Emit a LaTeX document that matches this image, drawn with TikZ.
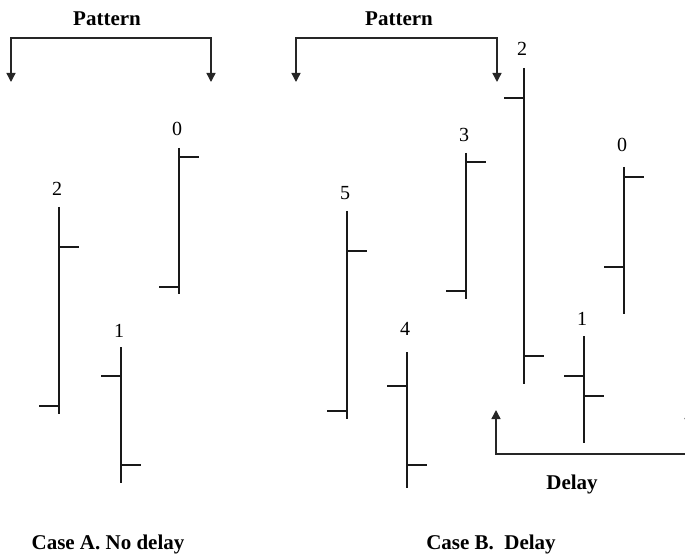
\documentclass[tikz,border=0pt]{standalone}
\usepackage{fontspec}
\setmainfont{Liberation Serif}
\usetikzlibrary{arrows.meta}
\tikzset{>={Triangle[width=9pt,length=9pt]}}
\tikzset{
  bar/.style={line width=1.7pt,black!90},
  brace/.style={line width=1.4pt,black!85},
  num/.style={font=\fontsize{20}{20}\selectfont,anchor=base,inner sep=0pt},
  caption/.style={font=\bfseries\fontsize{21}{21}\selectfont,inner sep=0pt}
}

\begin{document}
\begin{tikzpicture}[x=1pt,y=-1pt]
    \useasboundingbox (0,0) rectangle (685,556);
    % case A
    \node[caption] (patA) at (107,19) {Pattern};
    \coordinate (patAl) at (11,82);
    \coordinate (patAr) at (211,82);
    \draw[brace,<->] (patAl) -- ++(0,-44) -| (patAr);
    % case B
    \node[caption] (patB) at (399,19) {Pattern};
    \coordinate (patBl) at (296,82);
    \coordinate (patBr) at (497,82);
    \draw[brace,<->] (patBl) -- ++(0,-44) -| (patBr);
    \coordinate (delL) at (496,410);
    \coordinate (delR) at (689,410);
    \draw[brace,<->] (delL) -- ++(0,44) -| (delR);
    \node[caption] (delay) at (572,484) {Delay};
    % bars: name/x/top/bottom/right tick/left tick/label baseline
    \foreach \nm/\lb/\x/\t/\b/\yr/\yl/\ly in {
        a2/2/59/207/414/247/406/196,
        a0/0/179/148/294/157/287/136,
        a1/1/121/347/483/465/376/337,
        b5/5/347/211/419/251/411/200,
        b4/4/407/352/488/465/386/335,
        b3/3/466/153/299/162/291/142,
        b2/2/524/68/384/356/98/56,
        b0/0/624/167/314/177/267/152,
        b1/1/584/336/443/396/376/325}{
      \coordinate (\nm-top) at (\x,\t);
      \coordinate (\nm-bot) at (\x,\b);
      \draw[bar] (\nm-top) -- (\nm-bot);
      \draw[bar] (\x,\yr) -- ++(20,0);
      \draw[bar] (\x,\yl) -- ++(-20,0);
      \node[num] (lbl-\nm) at (\x-2,\ly) {\lb};
    }
    \node[caption] (caseA) at (108,544) {Case A. No delay};
    \node[caption] (caseB) at (491,544) {Case B.\ \ Delay};
\end{tikzpicture}
\end{document}
